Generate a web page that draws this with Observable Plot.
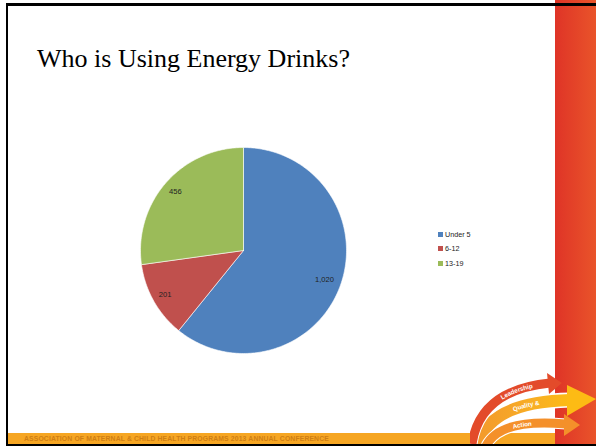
<!DOCTYPE html>
<html>
<head>
<meta charset="utf-8">
<script src="https://cdn.jsdelivr.net/npm/d3@7"></script>
<script src="https://cdn.jsdelivr.net/npm/@observablehq/plot@0.6"></script>
<style>
  html, body { margin: 0; padding: 0; background: #fff; }
  #slide { position: relative; width: 596px; height: 446px; overflow: hidden; background: #fff; font-family: "Liberation Sans", Arial, sans-serif; }
  .abs { position: absolute; }
  #title { left: 37px; top: 46px; font-family: "Liberation Serif", "Times New Roman", serif; font-size: 26px; line-height: 26px; color: #000; white-space: nowrap; }
  #legend { left: 438px; top: 227px; font-size: 7.2px; color: #222; }
  #legend .row { display: flex; align-items: center; height: 14.5px; }
  #legend .sw { width: 5px; height: 5px; margin-right: 2px; }
  #footer { left: 8px; top: 433px; width: 547px; height: 11px; background: #F6A623; }
  #footer span { position: absolute; left: 16px; top: 2px; font-size: 6.8px; font-weight: bold; color: #CF7E14; letter-spacing: 0.15px; white-space: nowrap; }
</style>
</head>
<body>
<div id="slide">
  <div class="abs" style="left:555px;top:0;width:41px;height:446px;background:linear-gradient(to right,#DF3427,#E9542A);"></div>
  <div class="abs" style="left:6px;top:3px;width:590px;height:3px;background:#000;"></div>
  <div class="abs" style="left:6px;top:3px;width:2px;height:443px;background:#000;"></div>
  <div class="abs" style="left:6px;top:444px;width:590px;height:2px;background:#000;"></div>
  <div id="footer" class="abs"><span>ASSOCIATION OF MATERNAL &amp; CHILD HEALTH PROGRAMS 2013 ANNUAL CONFERENCE</span></div>
  <svg class="abs" style="left:470px;top:370px;" width="126" height="74" viewBox="0 0 126 74">
    <defs>
      <path id="pY" d="M8,76 Q18,32 100,30"/>
      <path id="pO" d="M16,76 Q30,48 96,54"/>
      <path id="pR" d="M2,74 Q10,20 80,13"/>
      <linearGradient id="gY" x1="0" x2="1" y1="0" y2="0">
        <stop offset="0" stop-color="#F39A2C"/><stop offset="0.6" stop-color="#F8AE24"/><stop offset="1" stop-color="#FDBB14"/>
      </linearGradient>
    </defs>
    <use href="#pY" fill="none" stroke="#fff" stroke-width="15"/>
    <use href="#pY" fill="none" stroke="url(#gY)" stroke-width="12"/>
    <polygon points="97,15 126,29 97,46" fill="#FDBB14"/>
    <use href="#pO" fill="none" stroke="#fff" stroke-width="11"/>
    <use href="#pO" fill="none" stroke="#F4902A" stroke-width="9"/>
    <polygon points="94,44 110,55 94,66" fill="#F4902A"/>
    <use href="#pR" fill="none" stroke="#fff" stroke-width="11"/>
    <use href="#pR" fill="none" stroke="#E34B2A" stroke-width="9"/>
    <polygon points="77,3 92,13 79,24" fill="#E34B2A"/>
    <text font-size="6.3" font-weight="bold" fill="#fff" dy="2.2"><textPath href="#pR" startOffset="68%" text-anchor="middle">Leadership</textPath></text>
    <text font-size="6.2" font-weight="bold" fill="#fff" dy="2.2"><textPath href="#pY" startOffset="60%" text-anchor="middle">Quality &amp;</textPath></text>
    <text font-size="6.2" font-weight="bold" fill="#fff" dy="2.2"><textPath href="#pO" startOffset="50%" text-anchor="middle">Action</textPath></text>
  </svg>
  <div id="title" class="abs">Who is Using Energy Drinks?</div>
  <div id="chart" class="abs" style="left:128px;top:135px;"></div>
  <div id="legend" class="abs"></div>
</div>
<script>
const categories = ["Under 5", "6-12", "13-19"];
const values = [1020, 201, 456];
const colors = ["#4F81BD", "#C0504D", "#9BBB59"];

const pie = d3.pie().sort(null).value(d => d)(values);

// build slice outlines from pie angles (angle 0 = 12 o'clock, clockwise)
const slices = pie.map((p, i) => {
  const pts = [{x: 0, y: 0}];
  const n = Math.max(4, Math.ceil((p.endAngle - p.startAngle) / (Math.PI / 180)));
  for (let k = 0; k <= n; k++) {
    const a = p.startAngle + (p.endAngle - p.startAngle) * k / n;
    pts.push({x: Math.sin(a), y: Math.cos(a)});
  }
  pts.push({x: 0, y: 0});
  return pts;
});

const fmt = d3.format(",");
const R = 103;
const labels = pie.map((p, i) => {
  const a = (p.startAngle + p.endAngle) / 2;
  const txt = fmt(values[i]);
  const hw = txt.length * 2.3, hh = 3.5;
  const r = (0.95 * R - hw * Math.abs(Math.sin(a)) - hh * Math.abs(Math.cos(a))) / R;
  return {x: r * Math.sin(a), y: r * Math.cos(a), label: txt};
});

const marks = slices.map((pts, i) =>
  Plot.line(pts, {x: "x", y: "y", fill: colors[i], stroke: "#fff", strokeWidth: 0.6, curve: "linear"})
);
marks.push(Plot.text(labels, {x: "x", y: "y", text: "label", fontSize: 7.6, fill: "#222", fontFamily: "Liberation Sans, Arial, sans-serif"}));

const chart = Plot.plot({
  width: 230,
  height: 230,
  margin: 12,
  x: {domain: [-1, 1], axis: null},
  y: {domain: [-1, 1], axis: null},
  style: {background: "transparent", overflow: "visible"},
  marks
});
document.getElementById("chart").appendChild(chart);

const legend = document.getElementById("legend");
categories.forEach((c, i) => {
  const row = document.createElement("div");
  row.className = "row";
  row.innerHTML = `<div class="sw" style="background:${colors[i]}"></div><span>${c}</span>`;
  legend.appendChild(row);
});
</script>
</body>
</html>
